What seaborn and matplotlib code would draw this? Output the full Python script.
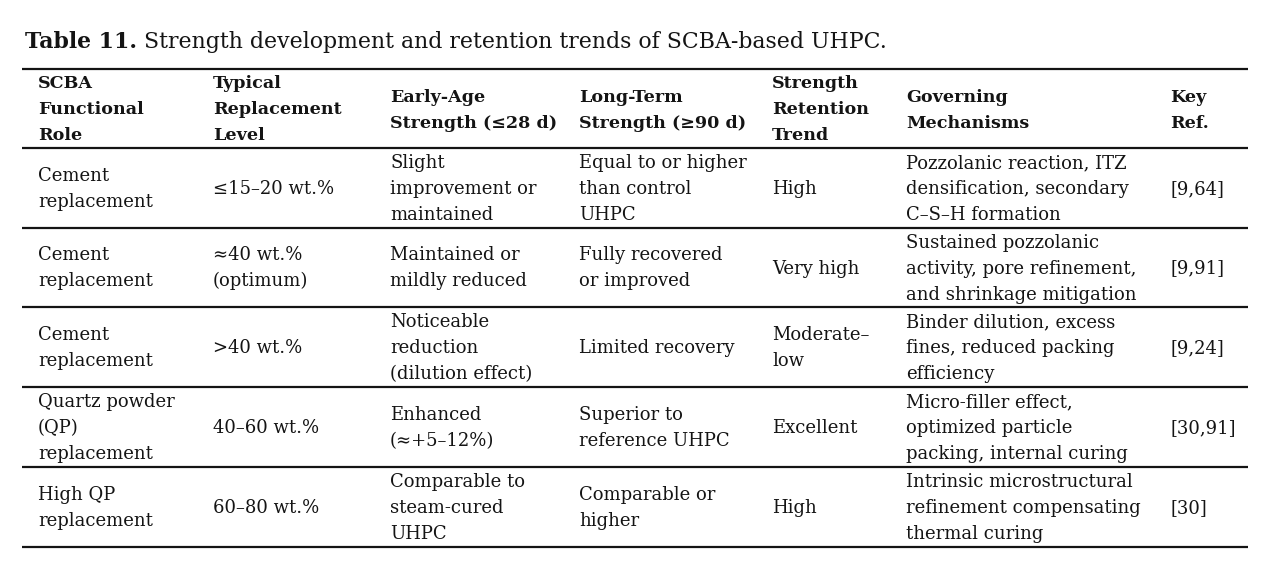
import numpy as np
import pandas as pd
import matplotlib.pyplot as plt
import seaborn as sns

##Table data
title_bold = "Table 11."
title_rest = " Strength development and retention trends of SCBA-based UHPC."

headers = ["SCBA\nFunctional\nRole", "Typical\nReplacement\nLevel", "Early-Age\nStrength (≤28 d)",
           "Long-Term\nStrength (≥90 d)", "Strength\nRetention\nTrend", "Governing\nMechanisms", "Key\nRef."]

role = ["Cement\nreplacement", "Cement\nreplacement", "Cement\nreplacement",
        "Quartz powder\n(QP)\nreplacement", "High QP\nreplacement"]
level = ["≤15–20 wt.%", "≈40 wt.%\n(optimum)", ">40 wt.%", "40–60 wt.%", "60–80 wt.%"]
early = ["Slight\nimprovement or\nmaintained", "Maintained or\nmildly reduced",
         "Noticeable\nreduction\n(dilution effect)", "Enhanced\n(≈+5–12%)",
         "Comparable to\nsteam-cured\nUHPC"]
longterm = ["Equal to or higher\nthan control\nUHPC", "Fully recovered\nor improved", "Limited recovery",
            "Superior to\nreference UHPC", "Comparable or\nhigher"]
trend = ["High", "Very high", "Moderate–\nlow", "Excellent", "High"]
mechanism = ["Pozzolanic reaction, ITZ\ndensification, secondary\nC–S–H formation",
             "Sustained pozzolanic\nactivity, pore refinement,\nand shrinkage mitigation",
             "Binder dilution, excess\nfines, reduced packing\nefficiency",
             "Micro-filler effect,\noptimized particle\npacking, internal curing",
             "Intrinsic microstructural\nrefinement compensating\nthermal curing"]
refs = ["[9,64]", "[9,91]", "[9,24]", "[30,91]", "[30]"]

df = pd.DataFrame({h: c for h, c in zip(headers, [role, level, early, longterm, trend, mechanism, refs])})

##Layout (pixels)
col_x = [38, 213, 390, 579, 772, 906, 1170]
rules = [69, 148, 228, 307, 387, 467, 547]
line_h = 26

sns.set_theme(style="white")
plt.rcParams['font.family'] = ['DejaVu Serif']
plt.rcParams['font.size'] = 13

fig = plt.figure(figsize=(12.75, 5.8), dpi=100)
ax = fig.add_axes([0, 0, 1, 1])
ax.set_xlim(0, 1275)
ax.set_ylim(580, 0)
ax.axis('off')

ink = '#141414'

def cell(x, yc, text, bold=False):
    lines = text.split("\n")
    n = len(lines)
    for i, s in enumerate(lines):
        yb = yc + (i - (n - 1) / 2) * line_h + 6
        ax.text(x, yb, s, ha='left', va='baseline', color=ink,
                fontweight='bold' if bold else 'normal',
                fontsize=12.6 if bold else 13)

t = ax.text(25, 48, title_bold, fontsize=15.8, fontweight='bold', color=ink, va='baseline')
fig.canvas.draw()
bb = t.get_window_extent()
ax.text(25 + bb.width, 48, title_rest, fontsize=15.8, color=ink, va='baseline')

ax.hlines(rules, 22, 1248, color=ink, lw=1.6)

for j, h in enumerate(df.columns):
    cell(col_x[j], (rules[0] + rules[1]) / 2, h, bold=True)
    for i, v in enumerate(df[h]):
        cell(col_x[j], (rules[i + 1] + rules[i + 2]) / 2, v)

fig.savefig("out.png", dpi=100)
